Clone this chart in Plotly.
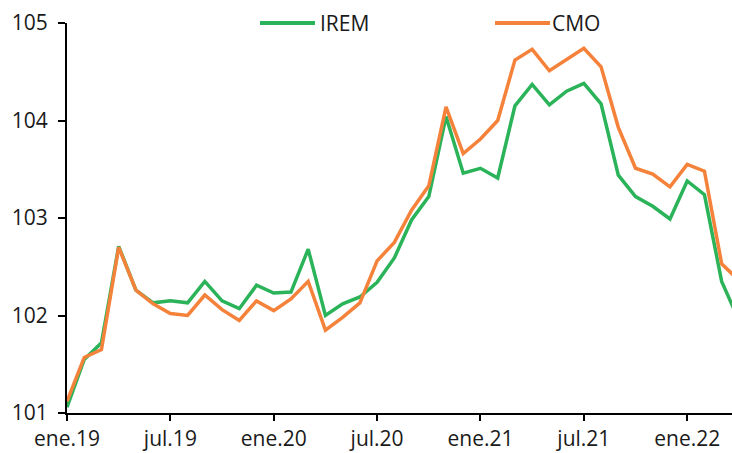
import plotly.graph_objects as go

months = ["ene", "feb", "mar", "abr", "may", "jun", "jul", "ago", "sep", "oct", "nov", "dic"]
categories = [f"{m}.{y}" for y in ["19", "20", "21", "22"] for m in months][:40]

irem = [101.06, 101.55, 101.72, 102.71, 102.26, 102.13, 102.15, 102.13, 102.35, 102.15,
        102.07, 102.31, 102.23, 102.24, 102.68, 102.00, 102.12, 102.19, 102.34, 102.59,
        102.98, 103.22, 104.04, 103.46, 103.51, 103.41, 104.15, 104.37, 104.16, 104.30,
        104.38, 104.17, 103.44, 103.22, 103.12, 102.99, 103.38, 103.24, 102.35, 101.95]
cmo = [101.12, 101.57, 101.65, 102.70, 102.26, 102.12, 102.02, 102.00, 102.21, 102.06,
       101.95, 102.15, 102.05, 102.17, 102.35, 101.85, 101.98, 102.13, 102.56, 102.75,
       103.08, 103.33, 104.14, 103.66, 103.81, 104.00, 104.62, 104.73, 104.51, 104.63,
       104.74, 104.55, 103.93, 103.51, 103.45, 103.32, 103.55, 103.48, 102.53, 102.36]

series_names = ["IREM", "CMO"]
tick_labels = ["ene.19", "jul.19", "ene.20", "jul.20", "ene.21", "jul.21", "ene.22"]
y_ticks = [101, 102, 103, 104, 105]

GREEN = "#2BB35A"
ORANGE = "#F5823A"
FONT = "Open Sans"
TEXT = "#1a1a1a"

W, H = 732, 453
ML, MR, MT, MB = 67, 0, 23, 40
PW = W - ML - MR
PH = H - MT - MB

fig = go.Figure()
for name, vals, col in zip(series_names, [irem, cmo], [GREEN, ORANGE]):
    fig.add_trace(go.Scatter(x=categories, y=vals, mode="lines", name=name,
                             line=dict(color=col, width=3.5), showlegend=False))

# manual legend (line sample + label) above the plot, positions in pixels
def px_x(p):
    return (p - ML) / PW

legend_items = [(series_names[0], GREEN, 260, 315, 319), (series_names[1], ORANGE, 495, 550, 551)]
for name, col, x0, x1, xt in legend_items:
    fig.add_shape(type="line", xref="paper", yref="paper",
                  x0=px_x(x0), x1=px_x(x1), y0=1.0, y1=1.0,
                  line=dict(color=col, width=4))
    fig.add_annotation(xref="paper", yref="paper", x=px_x(xt), y=1.0,
                       xanchor="left", yanchor="middle", showarrow=False,
                       text=name, font=dict(family=FONT, size=21, color=TEXT),
                       borderpad=0)

fig.update_layout(
    width=W, height=H,
    margin=dict(l=ML, r=MR, t=MT, b=MB, autoexpand=False),
    paper_bgcolor="white", plot_bgcolor="white",
    font=dict(family=FONT, size=21, color=TEXT),
    showlegend=False,
)
fig.update_xaxes(
    type="category", categoryorder="array", categoryarray=categories,
    range=[0, 38.6], automargin=False,
    tickmode="array", tickvals=tick_labels, ticktext=tick_labels,
    showline=True, linecolor="black", linewidth=2,
    ticks="outside", ticklen=6, tickwidth=1.5, tickcolor="black",
    showgrid=False, zeroline=False,
)
fig.update_yaxes(
    range=[101, 105], tickvals=y_ticks, automargin=False,
    showline=True, linecolor="black", linewidth=2,
    ticks="outside", ticklen=7, tickwidth=1.5, tickcolor="black",
    ticklabelstandoff=6,
    showgrid=False, zeroline=False,
)

# remove the default 8px page margin so the figure fills the window exactly
reset_page = ("document.documentElement.style.margin='0';"
              "document.body.style.margin='0';"
              "document.documentElement.style.overflow='hidden';"
              "document.body.style.overflow='hidden';")

fig.write_html("out.html", post_script=reset_page, config={"displayModeBar": False})
